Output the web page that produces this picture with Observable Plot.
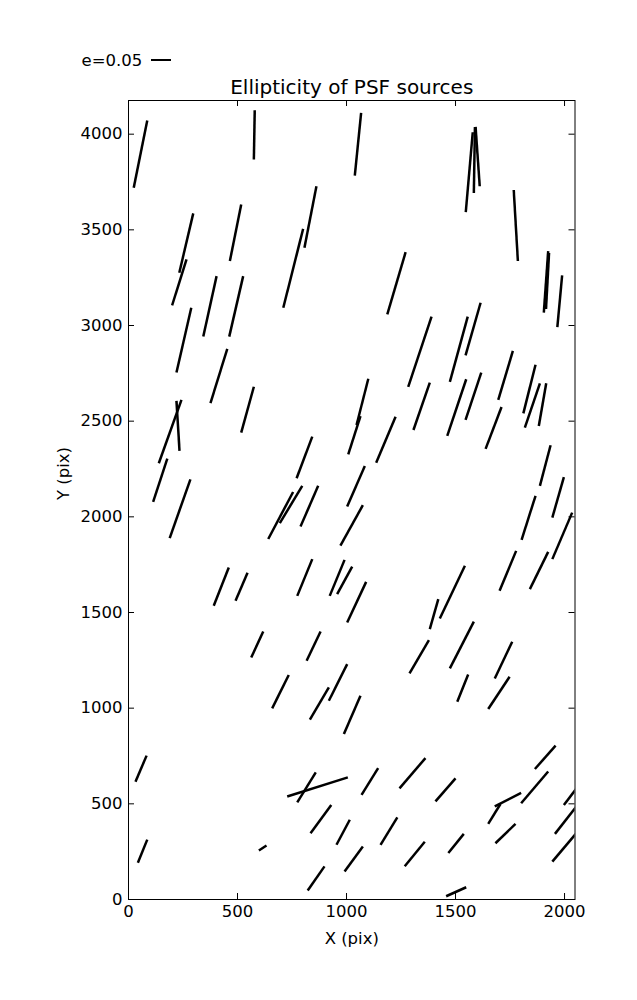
<!DOCTYPE html>
<html><head><meta charset="utf-8">
<script src="https://cdn.jsdelivr.net/npm/d3@7"></script>
<script src="https://cdn.jsdelivr.net/npm/@observablehq/plot@0.6"></script>
<style>body{margin:0;background:#fff;} svg{display:block}</style>
</head><body><div id="chart"></div>
<script>
// Whisker segments (pixel-data units): start point (x1,y1) and end point (x2,y2)
const x1 = [24,575,1038,1547,1584,1611,1767,1905,1915,1967,233,200,220,465,343,462,710,807,376,517,139,220,113,189,1187,1283,1474,1546,1696,1811,1818,1882,1307,1462,1546,1638,1008,1046,1136,771,641,694,789,1003,972,1887,1944,1803,1944,1702,1841,391,491,774,923,957,1003,563,817,659,919,832,988,1382,1428,1289,1474,1508,1650,1680,32,43,598,728,774,835,954,991,822,1069,1156,1243,1267,1408,1467,1457,1650,1680,1683,1801,1864,1944,1956,1997];
const y1 = [3720,3868,3784,3593,3693,3728,3708,3067,3086,2992,3276,3105,2754,3337,2942,2942,3093,3406,2594,2440,2280,2606,2078,1889,3058,2679,2705,2844,2611,2541,2466,2475,2454,2423,2507,2355,2327,2480,2283,2202,1884,1967,1949,2054,1849,2162,1996,1880,1779,1614,1622,1535,1561,1587,1587,1596,1448,1265,1248,999,1039,940,865,1413,1469,1182,1208,1034,996,1155,616,192,256,538,508,346,286,146,47,547,286,581,174,513,243,17,395,487,294,503,682,198,343,494];
const x2 = [86,579,1067,1579,1589,1592,1786,1925,1929,1989,297,266,288,517,404,526,801,862,453,575,243,234,178,284,1271,1390,1556,1615,1763,1867,1887,1916,1382,1549,1618,1711,1064,1100,1225,843,755,797,870,1084,1075,1936,1997,1867,2035,1778,1925,460,546,843,991,1026,1090,618,881,735,1003,919,1064,1421,1543,1378,1584,1558,1748,1760,83,86,633,1006,859,930,1015,1075,899,1145,1233,1362,1359,1500,1538,1549,1706,1801,1775,1925,1959,2075,2075,2073];
const y2 = [4071,4125,4111,4010,4038,4038,3337,3389,3379,3262,3586,3345,3093,3633,3258,3258,3505,3728,2878,2680,2611,2345,2304,2196,3383,3046,3046,3119,2867,2795,2698,2698,2701,2719,2754,2574,2527,2722,2523,2419,2130,2162,2162,2266,2061,2374,2208,2110,2022,1822,1817,1735,1708,1779,1775,1740,1660,1401,1401,1173,1230,1109,1065,1570,1744,1356,1452,1176,1164,1347,752,313,282,638,664,494,417,277,173,687,429,739,302,633,343,64,499,557,395,669,804,375,516,608];

const xTicks = [0, 500, 1000, 1500, 2000];
const yTicks = [0, 500, 1000, 1500, 2000, 2500, 3000, 3500, 4000];
const title = "Ellipticity of PSF sources";
const xLabel = "X (pix)";
const yLabel = "Y (pix)";
const legendLabel = "e=0.05";

const segs = x1.map((d, i) => ({x1: d, y1: y1[i], x2: x2[i], y2: y2[i]}));

const W = 637, H = 1000, mL = 128, mR = 62.5, mT = 100, mB = 101;
const iw = W - mL - mR, ih = H - mT - mB;
const tk = 6;

const legendLine = () => {
  const l = d3.create("svg:line")
    .attr("x1", mL + 23).attr("x2", mL + 43)
    .attr("y1", mT - 40).attr("y2", mT - 40)
    .attr("stroke", "black").attr("stroke-width", 2);
  return l.node();
};

const plot = Plot.plot({
  width: W, height: H,
  marginLeft: mL, marginRight: mR, marginTop: mT, marginBottom: mB,
  style: {fontFamily: "DejaVu Sans", fontSize: "16.5px", color: "black", background: "white"},
  x: {domain: [0, 2048]},
  y: {domain: [0, 4176]},
  marks: [
    Plot.link(segs, {x1: "x1", y1: "y1", x2: "x2", y2: "y2", stroke: "black", strokeWidth: 2.5, clip: true}),
    Plot.frame({stroke: "black"}),
    Plot.ruleX(xTicks, {x: d => d, insetTop: ih - tk, stroke: "black"}),
    Plot.ruleX(xTicks, {x: d => d, insetBottom: ih - tk, stroke: "black"}),
    Plot.ruleY(yTicks, {y: d => d, insetRight: iw - tk, stroke: "black"}),
    Plot.ruleY(yTicks, {y: d => d, insetLeft: iw - tk, stroke: "black"}),
    Plot.axisX(xTicks, {anchor: "bottom", tickSize: 0, tickPadding: 6, label: null, tickFormat: d => String(d)}),
    Plot.axisY(yTicks, {anchor: "left", tickSize: 0, tickPadding: 6, label: null, tickFormat: d => String(d)}),
    Plot.text([title], {frameAnchor: "top", dy: -13, lineAnchor: "middle", fontSize: 20, fill: "black"}),
    Plot.text([xLabel], {frameAnchor: "bottom", dy: 39, lineAnchor: "middle", fill: "black"}),
    Plot.text([yLabel], {frameAnchor: "left", dx: -65, rotate: -90, lineAnchor: "middle", fill: "black"}),
    Plot.text([legendLabel], {frameAnchor: "top-left", dx: -47, dy: -40, lineAnchor: "middle", textAnchor: "start", fill: "black"}),
    legendLine
  ]
});
document.getElementById("chart").appendChild(plot);
</script>
</body></html>
